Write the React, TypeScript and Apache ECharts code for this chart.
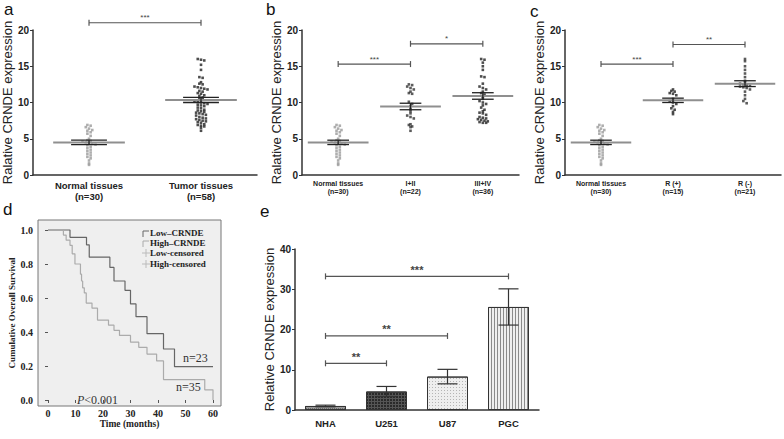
import React, { useEffect, useRef } from 'react';
import * as echarts from 'echarts';

// ---------- data ----------
const normalTissue = [6.9, 6.8, 6.6, 6.4, 6.2, 6.1, 5.9, 5.7, 5.4, 5.0, 4.8, 4.7, 4.6, 4.5, 4.4, 4.3, 4.2, 4.1, 3.9, 3.7, 3.5, 3.3, 3.1, 2.9, 2.7, 2.5, 2.3, 2.0, 1.6, 1.4];
const tumorTissue = [16.0, 15.9, 15.8, 15.2, 14.5, 13.5, 13.4, 12.8, 12.6, 12.5, 12.2, 12.1, 12.0, 11.9, 11.8, 11.6, 11.5, 11.3, 11.2, 11.0, 10.9, 10.7, 10.5, 10.4, 10.2, 10.1, 10.0, 9.9, 9.8, 9.7, 9.6, 9.5, 9.3, 9.2, 9.0, 8.9, 8.8, 8.7, 8.6, 8.5, 8.4, 8.3, 8.2, 8.0, 7.9, 7.8, 7.7, 7.6, 7.5, 7.4, 7.3, 7.2, 7.0, 6.9, 6.8, 6.7, 6.5, 6.1];
const stageI_II = [12.5, 12.4, 12.2, 12.0, 11.8, 11.5, 11.3, 11.2, 10.1, 9.8, 9.5, 9.1, 8.8, 8.5, 8.2, 8.0, 7.8, 7.0, 6.9, 6.7, 6.6, 6.1];
const stageIII_IV = [16.0, 15.9, 15.5, 15.0, 14.5, 13.6, 13.5, 12.6, 12.2, 12.0, 11.8, 11.5, 11.3, 11.1, 10.8, 10.5, 10.2, 10.0, 9.8, 9.6, 9.3, 9.0, 8.8, 8.6, 8.5, 8.3, 8.0, 7.9, 7.8, 7.7, 7.6, 7.5, 7.4, 7.3, 7.2, 7.2];
const resectPos = [11.8, 11.6, 11.5, 11.3, 11.2, 11.0, 10.5, 10.2, 10.0, 9.8, 9.5, 9.2, 9.0, 8.7, 8.4];
const resectNeg = [16.0, 15.7, 15.0, 14.5, 14.0, 13.5, 13.0, 12.8, 12.6, 12.5, 12.4, 12.3, 12.2, 12.1, 12.0, 11.8, 11.5, 11.0, 10.5, 10.2, 9.9];

const catsA = ['Normal tissues\n(n=30)', 'Tumor tissues\n(n=58)'];
const meanA = [4.5, 10.35];
const semA = [0.3, 0.35];
const sigA: [number, number, number, string][] = [[0, 1, 21.0, '***']];

const catsB = ['Normal tissues\n(n=30)', 'I+II\n(n=22)', 'III+IV\n(n=36)'];
const meanB = [4.5, 9.45, 10.9];
const semB = [0.3, 0.45, 0.45];
const sigB: [number, number, number, string][] = [[0, 1, 15.3, '***'], [1, 2, 18.1, '*']];

const catsC = ['Normal tissues\n(n=30)', 'R (+)\n(n=15)', 'R (-)\n(n=21)'];
const meanC = [4.5, 10.3, 12.6];
const semC = [0.3, 0.3, 0.4];
const sigC: [number, number, number, string][] = [[0, 1, 15.3, '***'], [1, 2, 18.0, '**']];

const lowTime = [0, 8, 14, 15, 22.5, 24, 28, 30, 32, 36, 42, 46, 60];
const lowSurv = [1, 0.957, 0.913, 0.84, 0.78, 0.70, 0.645, 0.565, 0.49, 0.39, 0.30, 0.196, 0.196];
const highTime = [0, 5.6, 6.6, 8, 8.8, 9.8, 11.8, 12.2, 12.6, 13.2, 13.9, 16, 18, 22, 24, 26, 30, 33, 36, 39.5, 42, 57, 60];
const highSurv = [1, 0.97, 0.94, 0.91, 0.86, 0.80, 0.74, 0.70, 0.66, 0.63, 0.57, 0.54, 0.47, 0.44, 0.41, 0.38, 0.34, 0.31, 0.27, 0.23, 0.12, 0.06, 0];
const survTicksX = [0, 10, 20, 30, 40, 50, 60];
const survTicksY = [0, 0.2, 0.4, 0.6, 0.8, 1.0];

const cellLines = ['NHA', 'U251', 'U87', 'PGC'];
const cellMean = [1.0, 4.6, 8.3, 25.6];
const cellErr = [0.2, 1.25, 1.8, 4.5];
const sigE: [number, number, number, string][] = [[0, 1, 11.6, '**'], [0, 2, 18.4, '**'], [0, 3, 33.2, '***']];

// ---------- styles ----------
const SANS = 'Liberation Sans, Arial, sans-serif';
const SERIF = 'Liberation Serif, Times New Roman, serif';
const AX = '#333';

const barStyles = [
  { color: '#9a9a9a', decal: { symbol: 'rect', color: '#6a6a6a', backgroundColor: '#ababab', dashArrayX: [1, 1], dashArrayY: [1, 1], symbolSize: 1 } },
  { color: '#555', decal: { symbol: 'rect', color: '#2a2a2a', backgroundColor: '#d8d8d8', dashArrayX: [2, 1], dashArrayY: [2, 1], symbolSize: 1 } },
  { color: '#eee', decal: { symbol: 'rect', color: '#b5b5b5', backgroundColor: '#f2f2f2', dashArrayX: [1, 2], dashArrayY: [1, 2], symbolSize: 1 } },
  { color: '#eee', decal: { symbol: 'rect', color: '#8a8a8a', backgroundColor: '#f4f4f4', dashArrayX: [1, 0], dashArrayY: [1, 2], rotation: Math.PI / 2, symbolSize: 1 } },
];

function swarm(vals: number[], center: number, bin: number, step: number) {
  const bins = new Map<number, number[]>();
  vals.forEach((v) => {
    const k = Math.round(v / bin);
    if (!bins.has(k)) bins.set(k, []);
    bins.get(k)!.push(v);
  });
  const out: number[][] = [];
  bins.forEach((list) => {
    list.forEach((v, j) => out.push([center + (j - (list.length - 1) / 2) * step, v]));
  });
  return out;
}

function meanSem(xi: number, yi: number, means: number[], sems: number[], hm: number, hs: number) {
  return {
    type: 'custom', xAxisIndex: xi, yAxisIndex: yi, z: 5, clip: false,
    encode: { x: 0, y: 1 },
    data: means.map((m, i) => [i + 0.5, m, sems[i]]),
    renderItem: (params: any, api: any) => {
      const x = api.value(0), m = api.value(1), s = api.value(2);
      const c = api.coord([x, m]);
      const t = api.coord([x, m + s]);
      const b = api.coord([x, m - s]);
      const band = api.size([1, 0])[0];
      const a = band * hm, h = band * hs;
      return {
        type: 'group', children: [
          { type: 'line', shape: { x1: c[0] - a, y1: c[1], x2: c[0] + a, y2: c[1] }, style: { stroke: '#8f8f8f', lineWidth: 2 } },
          { type: 'line', shape: { x1: c[0] - h, y1: t[1], x2: c[0] + h, y2: t[1] }, style: { stroke: '#222', lineWidth: 1.3 } },
          { type: 'line', shape: { x1: c[0] - h, y1: b[1], x2: c[0] + h, y2: b[1] }, style: { stroke: '#222', lineWidth: 1.3 } },
          { type: 'line', shape: { x1: c[0], y1: t[1], x2: c[0], y2: b[1] }, style: { stroke: '#222', lineWidth: 1.3 } },
        ],
      };
    },
  };
}

function brackets(xi: number, yi: number, sigs: [number, number, number, string][], off: number, fs: number, bold: boolean) {
  return {
    type: 'custom', xAxisIndex: xi, yAxisIndex: yi, z: 6, clip: false,
    encode: { x: 0, y: 1 },
    data: sigs.map((s) => [s[0] + off, s[2], s[1] + off]),
    renderItem: (params: any, api: any) => {
      const p1 = api.coord([api.value(0), api.value(1)]);
      const p2 = api.coord([api.value(2), api.value(1)]);
      const txt = sigs[params.dataIndex][3];
      return {
        type: 'group', children: [
          { type: 'line', shape: { x1: p1[0], y1: p1[1], x2: p2[0], y2: p2[1] }, style: { stroke: '#555', lineWidth: 1.2 } },
          { type: 'line', shape: { x1: p1[0], y1: p1[1] - 3, x2: p1[0], y2: p1[1] + 3 }, style: { stroke: '#555', lineWidth: 1.2 } },
          { type: 'line', shape: { x1: p2[0], y1: p2[1] - 3, x2: p2[0], y2: p2[1] + 3 }, style: { stroke: '#555', lineWidth: 1.2 } },
          { type: 'text', x: (p1[0] + p2[0]) / 2, y: p1[1] - 1, style: { text: txt, fontSize: fs, fontWeight: bold ? 'bold' : 'normal', fontFamily: SANS, fill: '#444', align: 'center', verticalAlign: 'bottom' } },
        ],
      };
    },
  };
}

const GRIDS = [
  { left: 30, top: 30, width: 227, height: 145 },
  { left: 302, top: 30, width: 217, height: 145 },
  { left: 565, top: 30, width: 216, height: 145 },
  { left: 38, top: 220, width: 183, height: 186 },
  { left: 295, top: 249, width: 244, height: 161 },
];

function catAxis(gi: number, cats: string[], fs: number, lh: number, margin: number) {
  return {
    type: 'category', gridIndex: gi, data: cats, boundaryGap: true,
    axisLine: { lineStyle: { color: AX, width: 1.5 } },
    axisTick: { alignWithLabel: true, length: 3, lineStyle: { color: AX } },
    axisLabel: { fontSize: fs, lineHeight: lh, fontWeight: 'bold', fontFamily: SANS, color: '#222', margin, interval: 0 },
  };
}
function hiddenX(gi: number, n: number) {
  return { type: 'value', gridIndex: gi, min: 0, max: n, show: false };
}
function dotY(gi: number) {
  return {
    type: 'value', gridIndex: gi, min: 0, max: 20, interval: 5,
    name: 'Ralative CRNDE expression', nameLocation: 'middle', nameGap: 13,
    nameTextStyle: { fontSize: 13, fontFamily: SANS, color: '#222' },
    splitLine: { show: false },
    axisLine: { show: true, lineStyle: { color: AX, width: 1.5 } },
    axisTick: { show: true, length: 3, lineStyle: { color: AX } },
    axisLabel: { fontSize: 10, fontWeight: 'bold', fontFamily: SANS, color: '#222', margin: 4 },
  };
}
function dots(xi: number, yi: number, vals: number[], idx: number, band: number, color: string) {
  return {
    type: 'scatter', xAxisIndex: xi, yAxisIndex: yi, symbol: 'rect', symbolSize: 2.6,
    itemStyle: { color }, z: 3,
    data: swarm(vals, idx + 0.5, 0.4, 3.3 / band),
  };
}

export default function App() {
  const ref = useRef<HTMLDivElement>(null);
  useEffect(() => {
    if (!ref.current) return;
    const chart = echarts.init(ref.current, undefined, { renderer: 'svg' });
    const bandA = GRIDS[0].width / 2, bandB = GRIDS[1].width / 3, bandC = GRIDS[2].width / 3;
    const option: any = {
      animation: false,
      backgroundColor: '#fff',
      grid: [
        { ...GRIDS[0] }, { ...GRIDS[1] }, { ...GRIDS[2] },
        { ...GRIDS[3], show: true, backgroundColor: '#efefef', borderColor: '#777', borderWidth: 1 },
        { ...GRIDS[4] },
      ],
      xAxis: [
        catAxis(0, catsA, 9.5, 11, 5), hiddenX(0, 2),
        catAxis(1, catsB, 7, 8, 4), hiddenX(1, 3),
        catAxis(2, catsC, 7, 8, 4), hiddenX(2, 3),
        {
          type: 'value', gridIndex: 3, min: -10 / 2.75, max: 60 + 8 / 2.75,
          name: 'Time (months)', nameLocation: 'middle', nameGap: 13,
          nameTextStyle: { fontSize: 9.5, fontWeight: 'bold', fontFamily: SERIF, color: '#222' },
          splitLine: { show: false }, axisLine: { show: false },
          axisTick: { show: true, length: 3, customValues: survTicksX, lineStyle: { color: '#555' } },
          axisLabel: { customValues: survTicksX, fontSize: 10, fontWeight: 'bold', fontFamily: SERIF, color: '#222', margin: 2 },
        },
        {
          type: 'category', gridIndex: 4, data: cellLines, boundaryGap: true,
          axisLine: { lineStyle: { color: AX, width: 1.5 } },
          axisTick: { show: false },
          axisLabel: { fontSize: 9.5, fontWeight: 'bold', fontFamily: SANS, color: '#222', margin: 8 },
        },
      ],
      yAxis: [
        dotY(0), dotY(1), dotY(2),
        {
          type: 'value', gridIndex: 3, min: -6 / 170, max: 1 + 10 / 170,
          name: 'Cumulative Overall Survival', nameLocation: 'middle', nameGap: 21,
          nameTextStyle: { fontSize: 9, fontWeight: 'bold', fontFamily: SERIF, color: '#222' },
          splitLine: { show: false }, axisLine: { show: false },
          axisTick: { show: true, length: 3, customValues: survTicksY, lineStyle: { color: '#555' } },
          axisLabel: { customValues: survTicksY, formatter: (v: number) => v.toFixed(1), fontSize: 10, fontWeight: 'bold', fontFamily: SERIF, color: '#222', margin: 5 },
        },
        {
          type: 'value', gridIndex: 4, min: 0, max: 40, interval: 10,
          name: 'Relative CRNDE expression', nameLocation: 'middle', nameGap: 15,
          nameTextStyle: { fontSize: 13, fontFamily: SANS, color: '#222' },
          splitLine: { show: false },
          axisLine: { show: true, lineStyle: { color: AX, width: 1.5 } },
          axisTick: { show: true, length: 3, lineStyle: { color: AX } },
          axisLabel: { fontSize: 10, fontWeight: 'bold', fontFamily: SANS, color: '#222', margin: 4 },
        },
      ],
      series: [
        dots(1, 0, normalTissue, 0, bandA, '#9a9a9a'),
        dots(1, 0, tumorTissue, 1, bandA, '#222'),
        meanSem(1, 0, meanA, semA, 0.32, 0.16),
        brackets(1, 0, sigA, 0.5, 8, false),

        dots(3, 1, normalTissue, 0, bandB, '#9a9a9a'),
        dots(3, 1, stageI_II, 1, bandB, '#333'),
        dots(3, 1, stageIII_IV, 2, bandB, '#222'),
        meanSem(3, 1, meanB, semB, 0.42, 0.15),
        brackets(3, 1, sigB, 0.5, 8, false),

        dots(5, 2, normalTissue, 0, bandC, '#9a9a9a'),
        dots(5, 2, resectPos, 1, bandC, '#222'),
        dots(5, 2, resectNeg, 2, bandC, '#333'),
        meanSem(5, 2, meanC, semC, 0.42, 0.15),
        brackets(5, 2, sigC, 0.5, 8, false),

        {
          type: 'line', name: 'Low–CRNDE', xAxisIndex: 6, yAxisIndex: 3, step: 'end', symbol: 'none',
          lineStyle: { color: '#666', width: 1.2 }, data: lowTime.map((t, i) => [t, lowSurv[i]]),
        },
        {
          type: 'line', name: 'High–CRNDE', xAxisIndex: 6, yAxisIndex: 3, step: 'end', symbol: 'none',
          lineStyle: { color: '#ababab', width: 1.2 }, data: highTime.map((t, i) => [t, highSurv[i]]),
        },

        {
          type: 'bar', xAxisIndex: 7, yAxisIndex: 4, barWidth: 41,
          data: cellMean.map((v, i) => ({ value: v, itemStyle: { ...barStyles[i], borderColor: '#333', borderWidth: 1 } })),
        },
        {
          type: 'custom', xAxisIndex: 7, yAxisIndex: 4, z: 5, encode: { x: 0, y: 1 },
          data: cellMean.map((v, i) => [i, v, cellErr[i]]),
          renderItem: (params: any, api: any) => {
            const i = api.value(0), m = api.value(1), e = api.value(2);
            const t = api.coord([i, m + e]);
            const b = api.coord([i, m - e]);
            const w = 10;
            return {
              type: 'group', children: [
                { type: 'line', shape: { x1: t[0], y1: t[1], x2: b[0], y2: b[1] }, style: { stroke: '#333', lineWidth: 1.2 } },
                { type: 'line', shape: { x1: t[0] - w, y1: t[1], x2: t[0] + w, y2: t[1] }, style: { stroke: '#333', lineWidth: 1.2 } },
                { type: 'line', shape: { x1: b[0] - w, y1: b[1], x2: b[0] + w, y2: b[1] }, style: { stroke: '#333', lineWidth: 1.2 } },
              ],
            };
          },
        },
        brackets(7, 4, sigE, 0, 11, true),
      ],
      graphic: [
        { type: 'text', left: 4, top: 1, style: { text: 'a', fontSize: 17, fontFamily: SANS, fill: '#111' } },
        { type: 'text', left: 266, top: 1, style: { text: 'b', fontSize: 17, fontFamily: SANS, fill: '#111' } },
        { type: 'text', left: 530, top: 3, style: { text: 'c', fontSize: 17, fontFamily: SANS, fill: '#111' } },
        { type: 'text', left: 3, top: 201, style: { text: 'd', fontSize: 17, fontFamily: SANS, fill: '#111' } },
        { type: 'text', left: 260, top: 203, style: { text: 'e', fontSize: 17, fontFamily: SANS, fill: '#111' } },
        // panel d legend
        { type: 'polyline', shape: { points: [[143, 237], [143, 231], [149, 231]] }, style: { stroke: '#666', lineWidth: 1, fill: null } },
        { type: 'text', x: 150, y: 233, style: { text: 'Low–CRNDE', fontSize: 9, fontWeight: 'bold', fontFamily: SERIF, fill: '#222', verticalAlign: 'middle' } },
        { type: 'polyline', shape: { points: [[143, 247], [143, 241], [149, 241]] }, style: { stroke: '#aaa', lineWidth: 1, fill: null } },
        { type: 'text', x: 150, y: 243, style: { text: 'High–CRNDE', fontSize: 9, fontWeight: 'bold', fontFamily: SERIF, fill: '#222', verticalAlign: 'middle' } },
        { type: 'line', shape: { x1: 142, y1: 253, x2: 150, y2: 253 }, style: { stroke: '#bbb', lineWidth: 1 } },
        { type: 'line', shape: { x1: 146, y1: 249, x2: 146, y2: 257 }, style: { stroke: '#bbb', lineWidth: 1 } },
        { type: 'text', x: 150, y: 253, style: { text: 'Low-censored', fontSize: 9, fontWeight: 'bold', fontFamily: SERIF, fill: '#222', verticalAlign: 'middle' } },
        { type: 'line', shape: { x1: 142, y1: 264, x2: 150, y2: 264 }, style: { stroke: '#bbb', lineWidth: 1 } },
        { type: 'line', shape: { x1: 146, y1: 260, x2: 146, y2: 268 }, style: { stroke: '#bbb', lineWidth: 1 } },
        { type: 'text', x: 150, y: 264, style: { text: 'High-censored', fontSize: 9, fontWeight: 'bold', fontFamily: SERIF, fill: '#222', verticalAlign: 'middle' } },
        { type: 'text', x: 183, y: 358, style: { text: 'n=23', fontSize: 12, fontFamily: SERIF, fill: '#333', verticalAlign: 'middle' } },
        { type: 'text', x: 176, y: 387, style: { text: 'n=35', fontSize: 12, fontFamily: SERIF, fill: '#333', verticalAlign: 'middle' } },
        {
          type: 'text', x: 77, y: 400, style: {
            text: '{p|P}<0.001', fontSize: 12, fontFamily: SERIF, fill: '#333', verticalAlign: 'middle',
            rich: { p: { fontStyle: 'italic', fontSize: 12, fontFamily: SERIF, fill: '#333' } },
          },
        },
      ],
    };
    chart.setOption(option);
    return () => chart.dispose();
  }, []);
  return <div ref={ref} style={{ position: 'fixed', left: 0, top: 0, width: 784, height: 439, background: '#fff' }} />;
}
